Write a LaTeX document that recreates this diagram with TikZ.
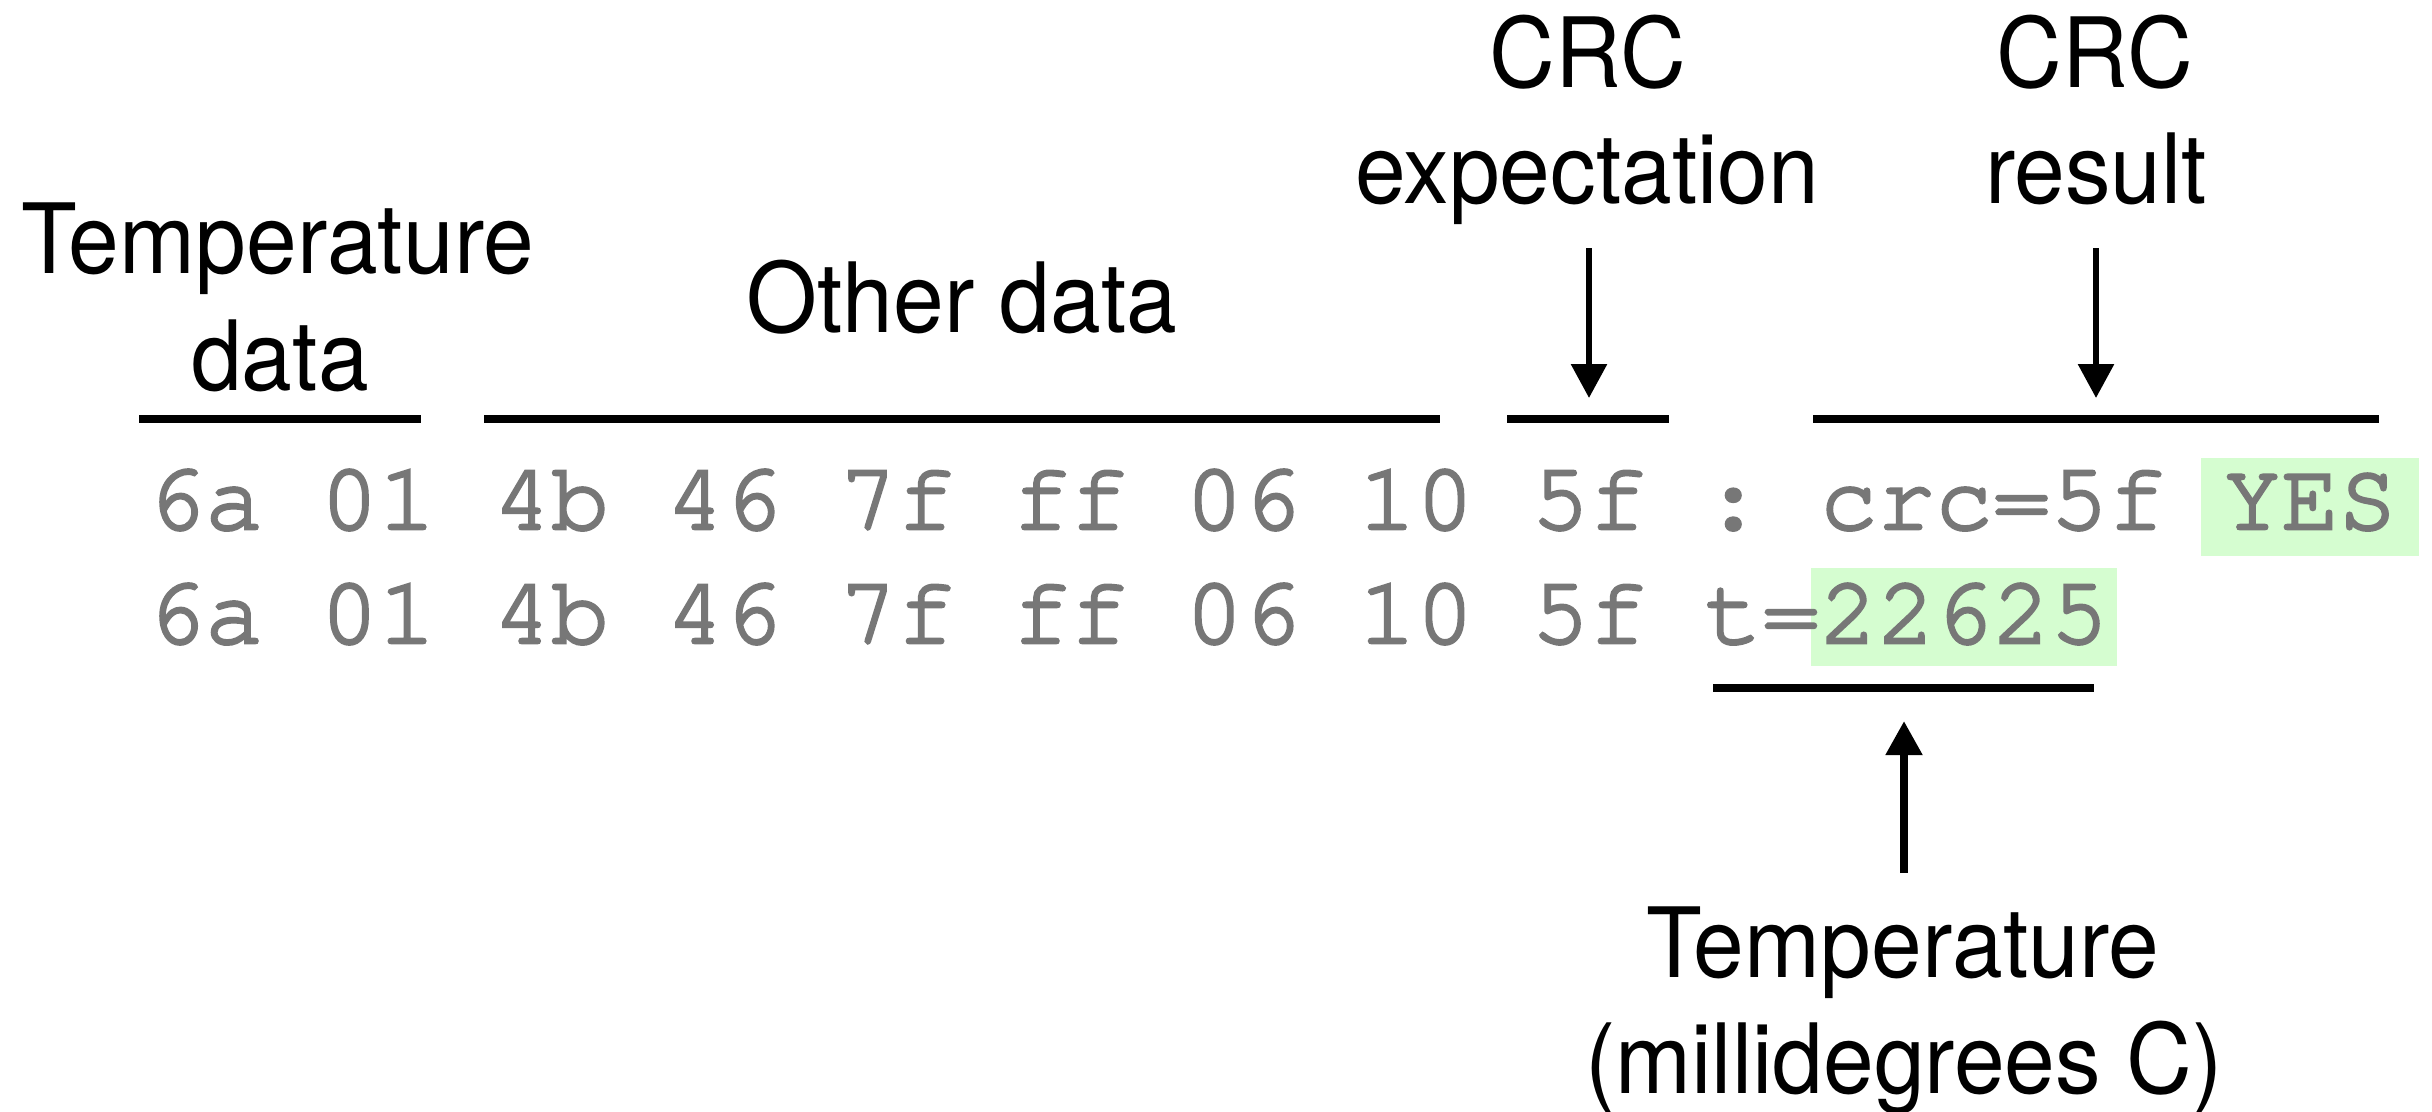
\documentclass[tikz,border=0pt]{standalone}
\usepackage{fontspec}
\setmainfont{TeX Gyre Heros}[FakeStretch=0.94]
\newfontfamily\monof{TeX Gyre Cursor}[FakeBold=3,Ligatures={NoCommon,NoRequired,NoContextual}]
\usetikzlibrary{arrows.meta}
\definecolor{txtgray}{HTML}{777777}
\definecolor{hlgreen}{HTML}{D5FDD0}
\tikzset{
  lbl/.style={anchor=base, inner sep=0pt, font=\fontsize{97}{116}\selectfont},
  mono/.style={anchor=base west, inner sep=0pt, text=txtgray, font=\monof\fontsize{96.1}{114}\selectfont\frenchspacing},
  ul/.style={line width=8pt},
  arr/.style={line width=6pt, -{Triangle[length=34pt,width=35pt]}},
  arrup/.style={line width=8pt, -{Triangle[length=34pt,width=35pt]}},
}
\begin{document}
\begin{tikzpicture}[x=1pt,y=-1pt]
\fill[white] (0,0) rectangle (2432,1111);
\useasboundingbox (0,0) rectangle (2432,1111);
% highlights
\fill[hlgreen] (2201,458) rectangle (2419,556);
\fill[hlgreen] (1811,568) rectangle (2117,666);
% data rows
\node[mono] (row1) at (147.4,529) {6a 01 4b 46 7f ff 06 10 5f : crc=5f YES};
\node[mono] (row2) at (147.4,643) {6a 01 4b 46 7f ff 06 10 5f t=22625};
% underlines
\draw[ul] (139,419) -- (421,419);
\draw[ul] (484,419) -- (1440,419);
\draw[ul] (1507,419) -- (1669,419);
\draw[ul] (1813,419) -- (2379,419);
\draw[ul] (1713,688) -- (2094,688);
% labels
\node[lbl] (tdata1) at (278,273) {Temperature};
\node[lbl] (tdata2) at (280,390) {data};
\node[lbl] (other) at (962,332) {Other data};
\node[lbl] (crce1) at (1588,87) {CRC};
\node[lbl] (crce2) at (1587,203) {expectation};
\node[lbl] (crcr1) at (2095,87) {CRC};
\node[lbl] (crcr2) at (2096,203) {result};
\node[lbl] (temp1) at (1903,977) {Temperature};
\node[lbl] (temp2) at (1904,1093) {(millidegrees C)};
% arrows
\coordinate (ce1) at (1589,248);
\coordinate (ce2) at (1589,398);
\coordinate (cr1) at (2096,248);
\coordinate (cr2) at (2096,398);
\coordinate (tp1) at (1904,873);
\coordinate (tp2) at (1904,721);
\draw[arr] (ce1) -- (ce2);
\draw[arr] (cr1) -- (cr2);
\draw[arrup] (tp1) -- (tp2);
\end{tikzpicture}
\end{document}
